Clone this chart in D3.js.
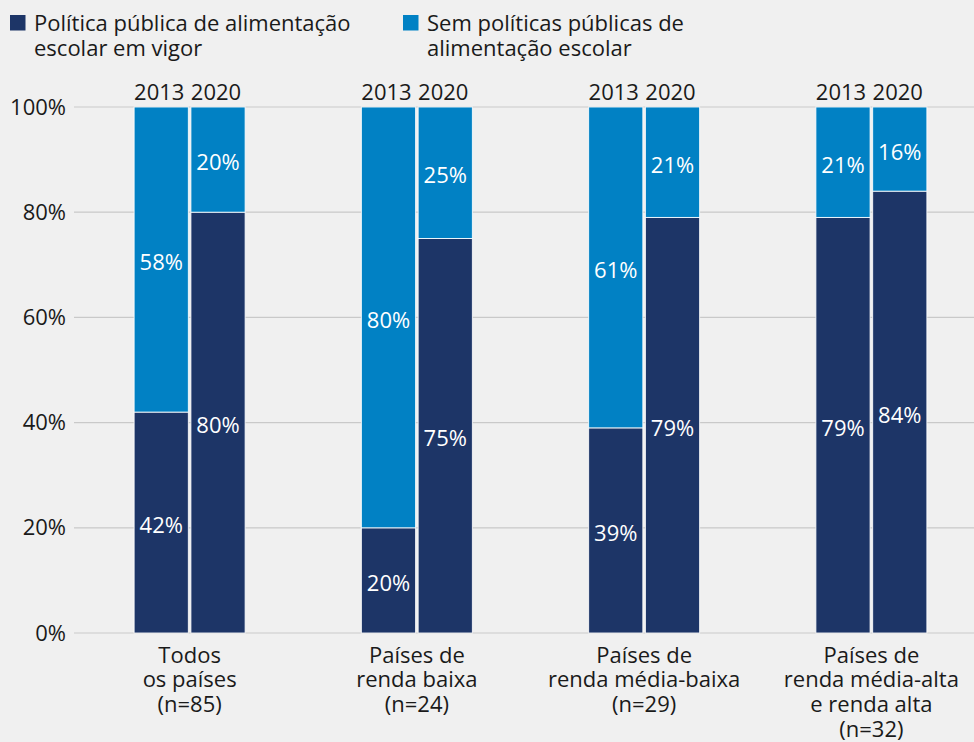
<!DOCTYPE html>
<html lang="pt">
<head>
<meta charset="utf-8">
<script src="https://cdn.jsdelivr.net/npm/d3@7"></script>
<style>
  html, body { margin: 0; padding: 0; background: #f0f0f0; }
  svg { display: block; font-family: "Open Sans", "Noto Sans", sans-serif; }
</style>
</head>
<body>
<svg id="chart" width="974" height="742"></svg>
<script>
// Grupos de países (rótulos com quebras de linha)
const categories = [
  ["Todos", "os países", "(n=85)"],
  ["Países de", "renda baixa", "(n=24)"],
  ["Países de", "renda média-baixa", "(n=29)"],
  ["Países de", "renda média-alta", "e renda alta", "(n=32)"]
];
const years = ["2013", "2020"];
// Percentual de países com política pública de alimentação escolar em vigor
const withPolicy2013 = [42, 20, 39, 79];
const withPolicy2020 = [80, 75, 79, 84];
// Percentual de países sem políticas públicas de alimentação escolar
const withoutPolicy2013 = [58, 80, 61, 21];
const withoutPolicy2020 = [20, 25, 21, 16];
const yTicks = [0, 20, 40, 60, 80, 100];
const seriesNames = [
  ["Política pública de alimentação", "escolar em vigor"],
  ["Sem políticas públicas de", "alimentação escolar"]
];

const colors = { with: "#1d3567", without: "#0181c4" };
const textColor = "#1a1a1a";
const fontSize = 22;
const lineH = 24.8;

const svg = d3.select("#chart");
const margin = { top: 107, bottom: 633, left: 76, right: 985 };

const y = d3.scaleLinear().domain([0, 100]).range([margin.bottom, margin.top]);
const x0 = d3.scaleBand().domain(d3.range(categories.length)).range([margin.left, margin.right]).paddingInner(0).paddingOuter(0);
const x1 = d3.scaleBand().domain(years).range([-55.5, 55.5]).paddingInner(0.045);

// Linhas de grade e rótulos do eixo Y
const yAxis = d3.axisLeft(y).tickValues(yTicks).tickFormat(d => d + "%").tickSize(0).tickPadding(10);
const gy = svg.append("g").attr("transform", `translate(${margin.left},0)`).call(yAxis);
gy.select(".domain").remove();
gy.selectAll("text").attr("font-size", fontSize).attr("fill", textColor).attr("font-family", "Open Sans");
svg.append("g").selectAll("line").data(yTicks).join("line")
  .attr("x1", 74).attr("x2", 974)
  .attr("y1", d => y(d)).attr("y2", d => y(d))
  .attr("stroke", "#c9c9c9").attr("stroke-width", 1.2);

// Dados empilhados por grupo e ano
const rows = [];
categories.forEach((c, i) => {
  rows.push({ cat: i, year: "2013", with: withPolicy2013[i], without: withoutPolicy2013[i] });
  rows.push({ cat: i, year: "2020", with: withPolicy2020[i], without: withoutPolicy2020[i] });
});
const stack = d3.stack().keys(["with", "without"]);
const stacked = stack(rows);

const barX = d => x0(d.data.cat) + x0.bandwidth() / 2 + x1(d.data.year);

const bars = svg.append("g");
stacked.forEach(layer => {
  bars.append("g").selectAll("rect").data(layer).join("rect")
    .attr("x", barX)
    .attr("width", x1.bandwidth())
    .attr("y", d => y(d[1]))
    .attr("height", d => y(d[0]) - y(d[1]))
    .attr("fill", colors[layer.key])
    .attr("stroke", "#ffffff").attr("stroke-width", 1).attr("stroke-opacity", 0.85);
  bars.append("g").selectAll("text").data(layer).join("text")
    .attr("x", d => barX(d) + x1.bandwidth() / 2)
    .attr("y", d => (y(d[0]) + y(d[1])) / 2 + 3)
    .attr("dy", "0.35em")
    .attr("text-anchor", "middle")
    .attr("font-size", fontSize)
    .attr("fill", "#ffffff")
    .text(d => (d[1] - d[0]) + "%");
});

// Anos acima das barras
const yearG = svg.append("g");
categories.forEach((c, i) => {
  yearG.selectAll(null).data(years).join("text")
    .attr("x", d => x0(i) + x0.bandwidth() / 2 + x1(d) + x1.bandwidth() / 2 - 2)
    .attr("y", 100)
    .attr("text-anchor", "middle")
    .attr("font-size", fontSize)
    .attr("fill", textColor)
    .text(d => d);
});

// Rótulos das categorias
const catG = svg.append("g");
categories.forEach((lines, i) => {
  const cx = x0(i) + x0.bandwidth() / 2;
  const t = catG.append("text")
    .attr("x", cx)
    .attr("y", 662.5)
    .attr("text-anchor", "middle")
    .attr("font-size", fontSize)
    .attr("fill", textColor);
  lines.forEach((l, k) => {
    t.append("tspan").attr("x", cx).attr("dy", k === 0 ? 0 : lineH).text(l);
  });
});

// Legenda
const legendX = [10, 403];
const legendKeys = ["with", "without"];
seriesNames.forEach((lines, i) => {
  const g = svg.append("g").attr("transform", `translate(${legendX[i]},0)`);
  g.append("rect").attr("x", 0).attr("y", 15).attr("width", 15.5).attr("height", 15.5).attr("fill", colors[legendKeys[i]]);
  const t = g.append("text").attr("x", 24).attr("y", 31).attr("font-size", fontSize).attr("fill", textColor);
  lines.forEach((l, k) => {
    t.append("tspan").attr("x", 24).attr("dy", k === 0 ? 0 : lineH).text(l);
  });
});
</script>
</body>
</html>
